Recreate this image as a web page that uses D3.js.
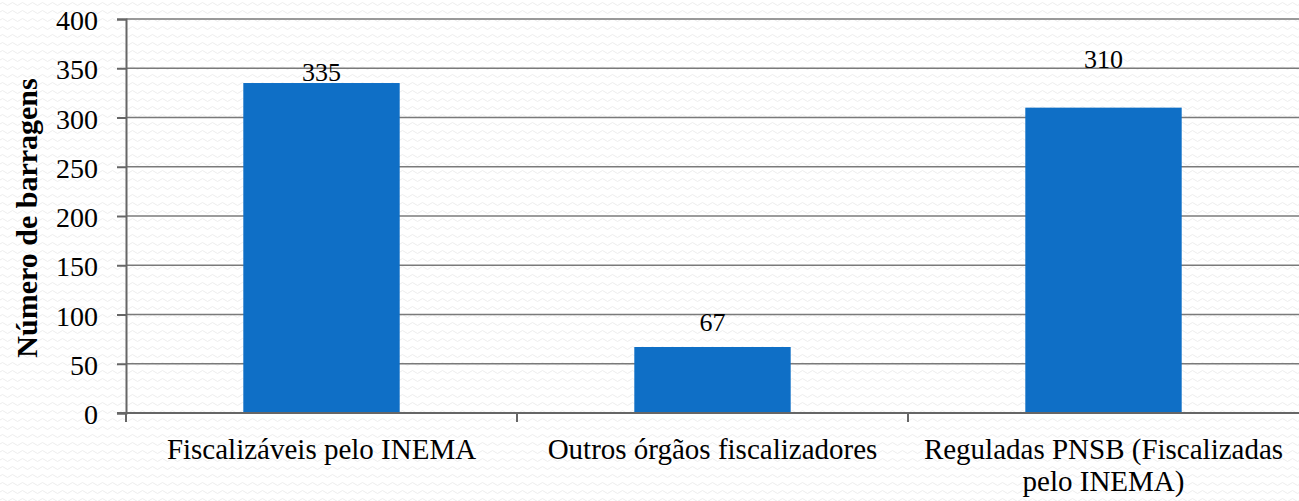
<!DOCTYPE html>
<html>
<head>
<meta charset="utf-8">
<script src="https://cdn.jsdelivr.net/npm/d3@7"></script>
<style>
  body { margin: 0; background: #fff; }
  svg { display: block; }
  text { font-family: "Liberation Serif", "DejaVu Serif", serif; fill: #000; }
</style>
</head>
<body>
<div id="chart"></div>
<script>
var categories = ['Fiscalizáveis pelo INEMA', 'Outros órgãos fiscalizadores', 'Reguladas PNSB (Fiscalizadas|pelo INEMA)'];
var values = [335, 67, 310];
var yTicks = [0, 50, 100, 150, 200, 250, 300, 350, 400];
var yTitle = 'Número de barragens';

// how far above each bar its label sits (Excel placed them unevenly)
var labelLift = [2, 16, 40];

var width = 1299,
    height = 501;

var margin = {left: 126, right: 0, top: 19, bottom: 88};

var svg = d3.select('#chart').append('svg')
  .attr('width', width)
  .attr('height', height);

// faint wavy background texture
var defs = svg.append('defs');
var pat = defs.append('pattern')
  .attr('id', 'wave')
  .attr('patternUnits', 'userSpaceOnUse')
  .attr('width', 10)
  .attr('height', 8);
pat.append('path')
  .attr('d', 'M0 4 Q2.5 1 5 4 T10 4')
  .attr('fill', 'none')
  .attr('stroke', '#ececec')
  .attr('stroke-width', 1);

svg.append('rect')
  .attr('width', width)
  .attr('height', height)
  .attr('fill', '#fff');
svg.append('rect')
  .attr('width', width)
  .attr('height', height)
  .attr('fill', 'url(#wave)');

var x = d3.scaleBand()
  .domain(categories)
  .range([margin.left, width - margin.right])
  .paddingInner(0.6)
  .paddingOuter(0.3);

var step = x.step();

var y = d3.scaleLinear()
  .domain([0, 400])
  .range([height - margin.bottom, margin.top]);

// gridlines
svg.append('g')
  .selectAll('line')
  .data(yTicks.slice(1))
  .enter().append('line')
  .attr('x1', margin.left)
  .attr('x2', width)
  .attr('y1', function(d) { return y(d); })
  .attr('y2', function(d) { return y(d); })
  .attr('stroke', '#7a7a7a')
  .attr('stroke-width', 1.5);

// y axis
var yAxis = svg.append('g')
  .attr('transform', 'translate(' + margin.left + ',0)')
  .call(d3.axisLeft(y).tickValues(yTicks).tickSize(9).tickPadding(19));
yAxis.attr('font-family', null).attr('font-size', null);
yAxis.select('.domain').attr('stroke', '#666').attr('stroke-width', 2);
yAxis.selectAll('.tick line').attr('stroke', '#666').attr('stroke-width', 2);
yAxis.selectAll('.tick text')
  .style('font-size', '28px')
  .attr('fill', '#000')
  .attr('dy', '0.38em');

// bars
svg.append('g')
  .selectAll('rect')
  .data(values)
  .enter().append('rect')
  .attr('x', function(d, i) { return x(categories[i]); })
  .attr('y', function(d) { return y(d); })
  .attr('width', x.bandwidth())
  .attr('height', function(d) { return y(0) - y(d); })
  .attr('fill', '#0F6FC6');

// x axis line + category separators
var bottom = y(0);
svg.append('line')
  .attr('x1', margin.left - 9)
  .attr('x2', width)
  .attr('y1', bottom)
  .attr('y2', bottom)
  .attr('stroke', '#666')
  .attr('stroke-width', 2);

svg.append('g')
  .selectAll('line')
  .data(categories)
  .enter().append('line')
  .attr('x1', function(d) { return x(d) - step * 0.3; })
  .attr('x2', function(d) { return x(d) - step * 0.3; })
  .attr('y1', bottom)
  .attr('y2', bottom + 9)
  .attr('stroke', '#666')
  .attr('stroke-width', 2);

// category labels (| marks a line break)
var cat = svg.append('g')
  .selectAll('text')
  .data(categories)
  .enter().append('text')
  .attr('text-anchor', 'middle')
  .style('font-size', '29px')
  .attr('transform', function(d) {
    return 'translate(' + (x(d) + x.bandwidth() / 2) + ',' + (bottom + 46) + ')';
  });
cat.selectAll('tspan')
  .data(function(d) { return d.split('|'); })
  .enter().append('tspan')
  .attr('x', 0)
  .attr('dy', function(d, i) { return i ? 32 : 0; })
  .text(function(d) { return d; });

// value labels
svg.append('g')
  .selectAll('text')
  .data(values)
  .enter().append('text')
  .attr('text-anchor', 'middle')
  .style('font-size', '26px')
  .attr('x', function(d, i) { return x(categories[i]) + x.bandwidth() / 2; })
  .attr('y', function(d, i) { return y(d) - labelLift[i]; })
  .text(function(d) { return d; });

// y title
svg.append('text')
  .attr('transform', 'translate(37,' + (y(200) + 2) + ') rotate(-90)')
  .attr('text-anchor', 'middle')
  .style('font-size', '30px')
  .style('font-weight', 'bold')
  .text(yTitle);
</script>
</body>
</html>
